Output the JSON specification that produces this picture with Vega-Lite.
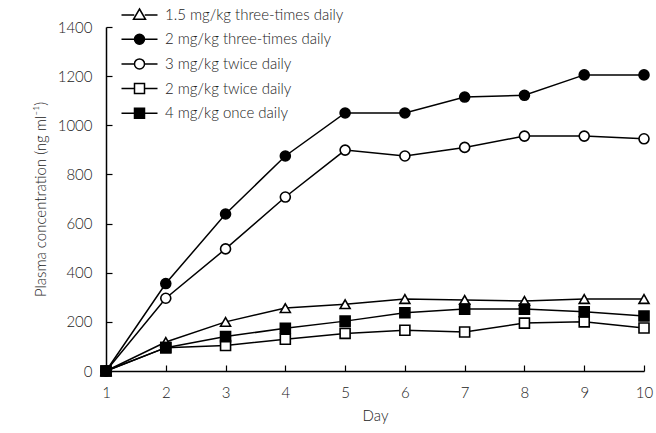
{
  "$schema": "https://vega.github.io/schema/vega-lite/v6.json",
  "width": 538,
  "height": 344,
  "autosize": {"type": "none"},
  "padding": {"left": 106, "top": 27, "right": 12, "bottom": 62},
  "background": "white",
  "config": {
    "view": {"stroke": null},
    "font": "Lato",
    "axis": {
      "domainColor": "black",
      "domainWidth": 1.5,
      "tickColor": "black",
      "tickWidth": 1.2,
      "tickSize": -6,
      "grid": false,
      "labelFont": "Lato",
      "labelFontSize": 15,
      "labelFontWeight": 300,
      "labelColor": "#222",
      "titleFont": "Lato",
      "titleFontSize": 15,
      "titleFontWeight": 300,
      "titleColor": "#222",
      "format": "d"
    }
  },
  "data": {
    "values": [
      {"day": 1, "series": "1.5 mg/kg three-times daily", "conc": 0},
      {"day": 2, "series": "1.5 mg/kg three-times daily", "conc": 118},
      {"day": 3, "series": "1.5 mg/kg three-times daily", "conc": 200},
      {"day": 4, "series": "1.5 mg/kg three-times daily", "conc": 256},
      {"day": 5, "series": "1.5 mg/kg three-times daily", "conc": 272},
      {"day": 6, "series": "1.5 mg/kg three-times daily", "conc": 293},
      {"day": 7, "series": "1.5 mg/kg three-times daily", "conc": 289},
      {"day": 8, "series": "1.5 mg/kg three-times daily", "conc": 285},
      {"day": 9, "series": "1.5 mg/kg three-times daily", "conc": 293},
      {"day": 10, "series": "1.5 mg/kg three-times daily", "conc": 293},
      {"day": 1, "series": "2 mg/kg three-times daily", "conc": 0},
      {"day": 2, "series": "2 mg/kg three-times daily", "conc": 356},
      {"day": 3, "series": "2 mg/kg three-times daily", "conc": 639},
      {"day": 4, "series": "2 mg/kg three-times daily", "conc": 875},
      {"day": 5, "series": "2 mg/kg three-times daily", "conc": 1050},
      {"day": 6, "series": "2 mg/kg three-times daily", "conc": 1050},
      {"day": 7, "series": "2 mg/kg three-times daily", "conc": 1115},
      {"day": 8, "series": "2 mg/kg three-times daily", "conc": 1122},
      {"day": 9, "series": "2 mg/kg three-times daily", "conc": 1205},
      {"day": 10, "series": "2 mg/kg three-times daily", "conc": 1205},
      {"day": 1, "series": "3 mg/kg twice daily", "conc": 0},
      {"day": 2, "series": "3 mg/kg twice daily", "conc": 296},
      {"day": 3, "series": "3 mg/kg twice daily", "conc": 497},
      {"day": 4, "series": "3 mg/kg twice daily", "conc": 708},
      {"day": 5, "series": "3 mg/kg twice daily", "conc": 899},
      {"day": 6, "series": "3 mg/kg twice daily", "conc": 875},
      {"day": 7, "series": "3 mg/kg twice daily", "conc": 910},
      {"day": 8, "series": "3 mg/kg twice daily", "conc": 956},
      {"day": 9, "series": "3 mg/kg twice daily", "conc": 956},
      {"day": 10, "series": "3 mg/kg twice daily", "conc": 945},
      {"day": 1, "series": "2 mg/kg twice daily", "conc": 0},
      {"day": 2, "series": "2 mg/kg twice daily", "conc": 95},
      {"day": 3, "series": "2 mg/kg twice daily", "conc": 104},
      {"day": 4, "series": "2 mg/kg twice daily", "conc": 129},
      {"day": 5, "series": "2 mg/kg twice daily", "conc": 153},
      {"day": 6, "series": "2 mg/kg twice daily", "conc": 166},
      {"day": 7, "series": "2 mg/kg twice daily", "conc": 159},
      {"day": 8, "series": "2 mg/kg twice daily", "conc": 195},
      {"day": 9, "series": "2 mg/kg twice daily", "conc": 200},
      {"day": 10, "series": "2 mg/kg twice daily", "conc": 175},
      {"day": 1, "series": "4 mg/kg once daily", "conc": 0},
      {"day": 2, "series": "4 mg/kg once daily", "conc": 95},
      {"day": 3, "series": "4 mg/kg once daily", "conc": 140},
      {"day": 4, "series": "4 mg/kg once daily", "conc": 174},
      {"day": 5, "series": "4 mg/kg once daily", "conc": 203},
      {"day": 6, "series": "4 mg/kg once daily", "conc": 237},
      {"day": 7, "series": "4 mg/kg once daily", "conc": 252},
      {"day": 8, "series": "4 mg/kg once daily", "conc": 252},
      {"day": 9, "series": "4 mg/kg once daily", "conc": 241},
      {"day": 10, "series": "4 mg/kg once daily", "conc": 224}
    ]
  },
  "encoding": {
    "x": {
      "field": "day",
      "type": "quantitative",
      "scale": {"domain": [1, 10], "nice": false, "zero": false},
      "axis": {"values": [1, 2, 3, 4, 5, 6, 7, 8, 9, 10], "title": "Day", "labelPadding": 20, "titlePadding": 8, "labelFlush": false}
    },
    "y": {
      "field": "conc",
      "type": "quantitative",
      "scale": {"domain": [0, 1400], "nice": false},
      "axis": {"values": [0, 200, 400, 600, 800, 1000, 1200, 1400], "title": "Plasma concentration (ng ml⁻¹)", "labelPadding": 20, "titlePadding": 9}
    }
  },
  "layer": [
    {
      "mark": {"type": "line", "color": "black", "strokeWidth": 1.5},
      "encoding": {"detail": {"field": "series", "type": "nominal"}}
    },
    {
      "mark": {"type": "point", "filled": true, "stroke": "black", "strokeWidth": 1.6, "opacity": 1, "size": 100},
      "encoding": {
        "shape": {
          "field": "series",
          "type": "nominal",
          "scale": {
            "domain": ["1.5 mg/kg three-times daily", "2 mg/kg three-times daily", "3 mg/kg twice daily", "2 mg/kg twice daily", "4 mg/kg once daily"],
            "range": ["triangle-up", "circle", "circle", "square", "square"]
          },
          "legend": null
        },
        "fill": {
          "field": "series",
          "type": "nominal",
          "scale": {
            "domain": ["1.5 mg/kg three-times daily", "2 mg/kg three-times daily", "3 mg/kg twice daily", "2 mg/kg twice daily", "4 mg/kg once daily"],
            "range": ["white", "black", "white", "white", "black"]
          },
          "legend": null
        }
      }
    },
    {
      "transform": [{"filter": "false"}],
      "mark": {"type": "point", "filled": true, "stroke": "black", "strokeWidth": 1.5, "opacity": 1, "size": 100},
      "encoding": {
        "shape": {
          "field": "series",
          "type": "nominal",
          "sort": ["1.5 mg/kg three-times daily", "2 mg/kg three-times daily", "3 mg/kg twice daily", "2 mg/kg twice daily", "4 mg/kg once daily"],
          "scale": {
            "domain": ["1.5 mg/kg three-times daily", "2 mg/kg three-times daily", "3 mg/kg twice daily", "2 mg/kg twice daily", "4 mg/kg once daily"],
            "range": [
              "M-3.6,0.1H-1.05 M1.05,0.1H3.6 M0,-1.1L1.2,0.95H-1.2Z",
              "M-3.6,0H-1 M1,0H3.6 M-1,0A1,1,0,1,1,1,0A1,1,0,1,1,-1,0Z",
              "M-3.6,0H-1 M1,0H3.6 M-1,0A1,1,0,1,1,1,0A1,1,0,1,1,-1,0Z",
              "M-3.6,0H-1 M1,0H3.6 M-1,-1H1V1H-1Z",
              "M-3.6,0H-1 M1,0H3.6 M-1,-1H1V1H-1Z"
            ]
          },
          "legend": {
            "title": null,
            "orient": "none",
            "legendX": 26,
            "legendY": -20,
            "symbolSize": 100,
            "labelOffset": 18,
            "labelLimit": 400,
            "rowPadding": 7.7,
            "labelFont": "Lato",
            "labelFontSize": 15,
            "labelFontWeight": 300,
            "labelColor": "#222"
          }
        },
        "fill": {
          "field": "series",
          "type": "nominal",
          "sort": ["1.5 mg/kg three-times daily", "2 mg/kg three-times daily", "3 mg/kg twice daily", "2 mg/kg twice daily", "4 mg/kg once daily"],
          "scale": {
            "domain": ["1.5 mg/kg three-times daily", "2 mg/kg three-times daily", "3 mg/kg twice daily", "2 mg/kg twice daily", "4 mg/kg once daily"],
            "range": ["white", "black", "white", "white", "black"]
          },
          "legend": null
        }
      }
    }
  ],
  "resolve": {"scale": {"shape": "independent", "fill": "independent"}}
}
